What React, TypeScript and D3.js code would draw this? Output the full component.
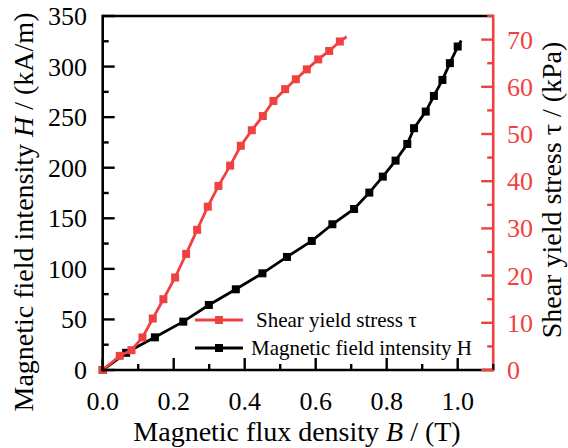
import React from "react";
import * as d3 from "d3";

const bField = [0, 0.066, 0.147, 0.227, 0.299, 0.375, 0.45, 0.519, 0.589, 0.647, 0.708, 0.751, 0.789, 0.825, 0.858, 0.877, 0.91, 0.933, 0.957, 0.978, 1.0, 1.01];
const hIntensity = [0, 17, 32.3, 47.8, 64.3, 79.8, 95.6, 111.8, 127.6, 144.1, 159.2, 175.4, 191.2, 207.0, 223.5, 239.1, 255.5, 271.0, 286.8, 303.4, 319.8, 325.7];

const bShear = [0, 0.048, 0.081, 0.112, 0.141, 0.171, 0.204, 0.235, 0.266, 0.296, 0.326, 0.359, 0.389, 0.42, 0.451, 0.481, 0.514, 0.544, 0.575, 0.607, 0.638, 0.668, 0.687];
const tauShear = [0, 3.0, 4.2, 6.9, 10.9, 15.0, 19.6, 24.6, 29.7, 34.6, 39.0, 43.3, 47.5, 50.8, 53.8, 57.0, 59.5, 61.6, 63.7, 65.8, 67.6, 69.6, 70.6];

const xTicks = [0, 0.2, 0.4, 0.6, 0.8, 1.0];
const xMinor = [0.1, 0.3, 0.5, 0.7, 0.9, 1.1];
const hTicks = [0, 50, 100, 150, 200, 250, 300, 350];
const hMinor = [25, 75, 125, 175, 225, 275, 325];
const tauTicks = [0, 10, 20, 30, 40, 50, 60, 70];
const tauMinor = [5, 15, 25, 35, 45, 55, 65, 75];

const legendLabels = ["Shear yield stress τ", "Magnetic field intensity H"];

const RED = "#f04141";
const FS = { fontFamily: "'Liberation Serif', 'DejaVu Serif', serif" };

export default function App() {
  const W = 568, H = 448;
  const L = 102.7, R = 493.2, T = 16, B = 370;
  const x = d3.scaleLinear().domain([0, 1.1]).range([L, R]);
  const yH = d3.scaleLinear().domain([0, 350]).range([B, T]);
  const yT = d3.scaleLinear().domain([0, 75]).range([B, T]);

  const blackPts = bField.map((b, i) => [x(b), yH(hIntensity[i])] as [number, number]);
  const redPts = bShear.map((b, i) => [x(b), yT(tauShear[i])] as [number, number]);
  const line = d3.line();
  const ms = 8;
  const tickFs = 26;
  const titleFs = 28;

  return (
    <svg width={W} height={H} style={{ position: "fixed", left: 0, top: 0, background: "#fff" }}>
      {/* series */}
      <path d={line(blackPts) || ""} fill="none" stroke="#000" strokeWidth={2.8} />
      {blackPts.slice(0, -1).map((p, i) => (
        <rect key={"b" + i} x={p[0] - ms / 2} y={p[1] - ms / 2} width={ms} height={ms} fill="#000" />
      ))}
      <path d={line(redPts) || ""} fill="none" stroke={RED} strokeWidth={2.8} />
      {redPts.slice(0, -1).map((p, i) => (
        <rect key={"r" + i} x={p[0] - ms / 2} y={p[1] - ms / 2} width={ms} height={ms} fill={RED} />
      ))}

      {/* axes frame */}
      <line x1={L} x2={R} y1={T} y2={T} stroke="#000" strokeWidth={2.6} />
      <line x1={L - 1.3} x2={R} y1={B} y2={B} stroke="#000" strokeWidth={2.6} />
      <line x1={R - 11} x2={R} y1={B} y2={B} stroke={RED} strokeWidth={2.6} />
      <line x1={L} x2={L} y1={T - 1.3} y2={B + 1.3} stroke="#000" strokeWidth={2.6} />
      <line x1={R} x2={R} y1={T - 1.3} y2={B + 1.3} stroke={RED} strokeWidth={2.6} />

      {/* x ticks */}
      {xTicks.map((t) => (
        <g key={"xt" + t}>
          <line x1={x(t)} x2={x(t)} y1={B} y2={B - 12} stroke="#000" strokeWidth={2.4} />
          <text style={FS} x={x(t)} y={410} textAnchor="middle" fontSize={tickFs}>{t.toFixed(1)}</text>
        </g>
      ))}
      {xMinor.map((t) => (
        <line key={"xm" + t} x1={x(t)} x2={x(t)} y1={B} y2={B - 6} stroke="#000" strokeWidth={2.4} />
      ))}

      {/* left ticks */}
      {hTicks.map((t) => (
        <g key={"ht" + t}>
          <line x1={L} x2={L + 12} y1={yH(t)} y2={yH(t)} stroke="#000" strokeWidth={2.4} />
          <text style={FS} x={87} y={yH(t) + 9} textAnchor="end" fontSize={tickFs}>{t}</text>
        </g>
      ))}
      {hMinor.map((t) => (
        <line key={"hm" + t} x1={L} x2={L + 6} y1={yH(t)} y2={yH(t)} stroke="#000" strokeWidth={2.4} />
      ))}

      {/* right ticks */}
      {tauTicks.map((t) => (
        <g key={"tt" + t}>
          <line x1={R} x2={R - 12} y1={yT(t)} y2={yT(t)} stroke={RED} strokeWidth={2.4} />
          <text style={FS} x={507} y={yT(t) + 9} textAnchor="start" fontSize={tickFs} fill={RED}>{t}</text>
        </g>
      ))}
      {tauMinor.map((t) => (
        <line key={"tm" + t} x1={R} x2={R - 6} y1={yT(t)} y2={yT(t)} stroke={RED} strokeWidth={2.4} />
      ))}

      {/* axis titles */}
      <text style={FS} x={297} y={441} textAnchor="middle" fontSize={titleFs}>
        Magnetic flux density <tspan fontStyle="italic">B</tspan> / (T)
      </text>
      <text style={FS} transform={`translate(33,212) rotate(-90)`} textAnchor="middle" fontSize={titleFs}>
        Magnetic field intensity <tspan fontStyle="italic">H</tspan> / (kA/m)
      </text>
      <text style={FS} transform={`translate(561,190) rotate(-90)`} textAnchor="middle" fontSize={titleFs}>
        Shear yield stress τ / (kPa)
      </text>

      {/* legend */}
      <line x1={195} x2={243} y1={320} y2={320} stroke={RED} strokeWidth={2.8} />
      <rect x={219 - ms / 2} y={320 - ms / 2} width={ms} height={ms} fill={RED} />
      <text style={FS} x={256} y={327} fontSize={21}>{legendLabels[0]}</text>
      <line x1={195} x2={243} y1={348} y2={348} stroke="#000" strokeWidth={2.8} />
      <rect x={219 - ms / 2} y={348 - ms / 2} width={ms} height={ms} fill="#000" />
      <text style={FS} x={251} y={355} fontSize={21}>{legendLabels[1]}</text>
    </svg>
  );
}
